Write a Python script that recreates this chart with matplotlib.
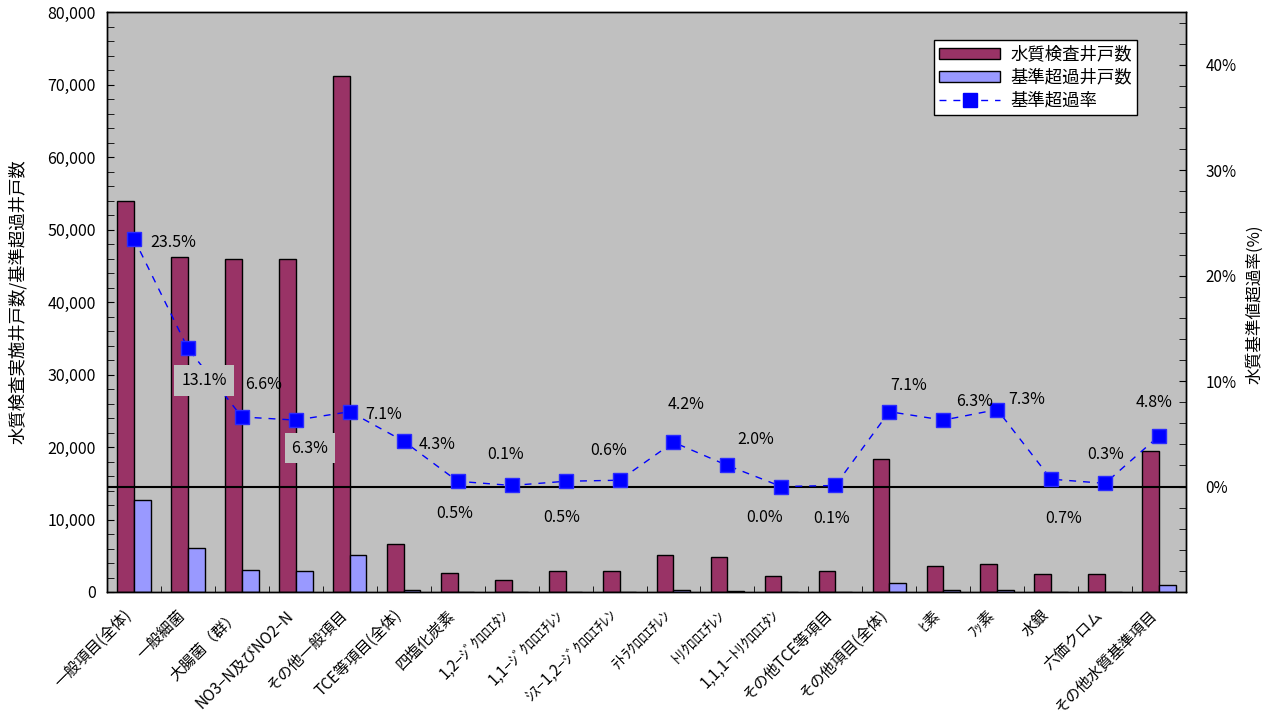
import numpy as np
import matplotlib
matplotlib.use("Agg")
import matplotlib.pyplot as plt
import matplotlib.transforms as mtransforms
from matplotlib.ticker import MultipleLocator, FixedLocator, FuncFormatter
from matplotlib.patches import Patch
from matplotlib.lines import Line2D

plt.rcParams['font.family'] = ['Noto Sans CJK JP', 'DejaVu Sans']

categories = ["一般項目(全体)", "一般細菌", "大腸菌（群）", "NO3−N及びNO2−N", "その他一般項目",
              "TCE等項目(全体)", "四塩化炭素", "1,2−ｼﾞｸﾛﾛｴﾀﾝ", "1,1−ｼﾞｸﾛﾛｴﾁﾚﾝ",
              "ｼｽ−1,2−ｼﾞｸﾛﾛｴﾁﾚﾝ", "ﾃﾄﾗｸﾛﾛｴﾁﾚﾝ", "ﾄﾘｸﾛﾛｴﾁﾚﾝ", "1,1,1−ﾄﾘｸﾛﾛｴﾀﾝ",
              "その他TCE等項目", "その他項目(全体)", "ﾋ素", "ﾌｯ素", "水銀", "六価クロム",
              "その他水質基準項目"]
wells_tested = [54000, 46150, 45980, 45980, 71170, 6580, 2680, 1620, 2860, 2860,
                5100, 4890, 2210, 2860, 18400, 3640, 3860, 2440, 2440, 19500]
wells_exceed = [12690, 6050, 3030, 2900, 5050, 280, 13, 2, 15, 17,
                215, 98, 0, 3, 1300, 230, 280, 17, 7, 940]
rate_pct = [23.5, 13.1, 6.6, 6.3, 7.1, 4.3, 0.5, 0.1, 0.5, 0.6,
            4.2, 2.0, 0.0, 0.1, 7.1, 6.3, 7.3, 0.7, 0.3, 4.8]
rate_labels = ["23.5%", "13.1%", "6.6%", "6.3%", "7.1%", "4.3%", "0.5%", "0.1%", "0.5%", "0.6%",
               "4.2%", "2.0%", "0.0%", "0.1%", "7.1%", "6.3%", "7.3%", "0.7%", "0.3%", "4.8%"]

# label offsets (pixels) relative to markers
label_offsets = [(39, -4), (16, -32), (22, 32), (14, -28), (34, -3), (33, -3), (-3, -32),
                 (-6, 31), (-4, -36), (-11, 30), (13, 38), (28, 26), (-17, -31), (-4, -33),
                 (19, 26), (31, 19), (30, 10), (13, -39), (1, 29), (-5, 33)]
boxed = {1, 3}

W, H = 1272, 720
fig = plt.figure(figsize=(W / 100, H / 100), dpi=100)
fig.patch.set_facecolor('white')
ax = fig.add_axes([107 / W, 1 - 592 / H, (1186 - 107) / W, (592 - 12) / H])
ax.set_facecolor('#C0C0C0')

x = np.arange(len(categories))
w = 0.31
ax.bar(x - w / 2, wells_tested, w, color='#993366', edgecolor='black', linewidth=1, zorder=2)
ax.bar(x + w / 2, wells_exceed, w, color='#9999FF', edgecolor='black', linewidth=1, zorder=2)

ax.set_xlim(-0.5, len(categories) - 0.5)
ax.set_ylim(0, 80000)
ax.yaxis.set_major_locator(MultipleLocator(10000))
ax.yaxis.set_minor_locator(MultipleLocator(2000))
ax.yaxis.set_major_formatter(FuncFormatter(lambda v, p: f"{int(v):,}"))
ax.tick_params(axis='y', which='both', direction='in', length=5, labelsize=11.5, pad=8)
ax.set_xticks(x)
ax.set_xticklabels(categories, rotation=45, ha='right', va='center', rotation_mode='anchor', fontsize=11)
ax.tick_params(axis='x', which='major', length=0, pad=15)
shift = mtransforms.ScaledTranslation(-5 / 100, 0, fig.dpi_scale_trans)
for lbl in ax.get_xticklabels():
    lbl.set_transform(lbl.get_transform() + shift)
ax.set_xticks(np.arange(0.5, len(categories) - 1, 1), minor=True)
ax.tick_params(axis='x', which='minor', direction='in', length=4)
for s in ax.spines.values():
    s.set_color('black')
    s.set_linewidth(1)
fig.text(18 / W, 1 - 302 / H, "水質検査実施井戸数/基準超過井戸数", rotation=90,
         ha='center', va='center', fontsize=12.5)

ax2 = ax.twinx()
ax2.set_ylim(-10, 45)
ax2.yaxis.set_major_locator(FixedLocator([0, 10, 20, 30, 40]))
ax2.yaxis.set_minor_locator(MultipleLocator(2))
ax2.yaxis.set_major_formatter(FuncFormatter(lambda v, p: f"{int(round(v))}%"))
ax2.tick_params(axis='y', which='both', direction='in', length=5, labelsize=11, pad=14)
ax2.axhline(0, color='black', linewidth=1.5, zorder=3)
ax2.plot(x, rate_pct, color='blue', linestyle=(0, (5, 5)), linewidth=1, marker='s',
         markersize=10, markerfacecolor='blue', markeredgecolor='#2a2aff', zorder=5)
for i, (v, lab) in enumerate(zip(rate_pct, rate_labels)):
    dx, dy = label_offsets[i]
    kw = {}
    if i in boxed:
        kw['bbox'] = dict(facecolor='#C0C0C0', edgecolor='none', pad=5)
    ax2.annotate(lab, (x[i], v), xytext=(dx, dy), textcoords='offset pixels',
                 ha='center', va='center', fontsize=11.5, zorder=6, **kw)
for s in ax2.spines.values():
    s.set_color('black')
    s.set_linewidth(1)
fig.text(1255 / W, 1 - 304 / H, "水質基準値超過率(%)", rotation=90, ha='center', va='center', fontsize=12)

handles = [Patch(facecolor='#993366', edgecolor='black', linewidth=1),
           Patch(facecolor='#9999FF', edgecolor='black', linewidth=1),
           Line2D([0], [0], color='blue', linestyle=(0, (5, 5)), linewidth=1, marker='s',
                  markersize=10, markerfacecolor='blue', markeredgecolor='blue')]
leg = ax2.legend(handles, ["水質検査井戸数", "基準超過井戸数", "基準超過率"],
                 loc='upper left', bbox_to_anchor=(934 / W, 1 - 40 / H),
                 bbox_transform=fig.transFigure, borderaxespad=0, fontsize=12.5,
                 fancybox=False, framealpha=1, edgecolor='black', handlelength=3.5,
                 handleheight=0.6, labelspacing=0.3, borderpad=0.3, handletextpad=0.6)
leg.get_frame().set_linewidth(1)

fig.savefig("out.png", dpi=100)
